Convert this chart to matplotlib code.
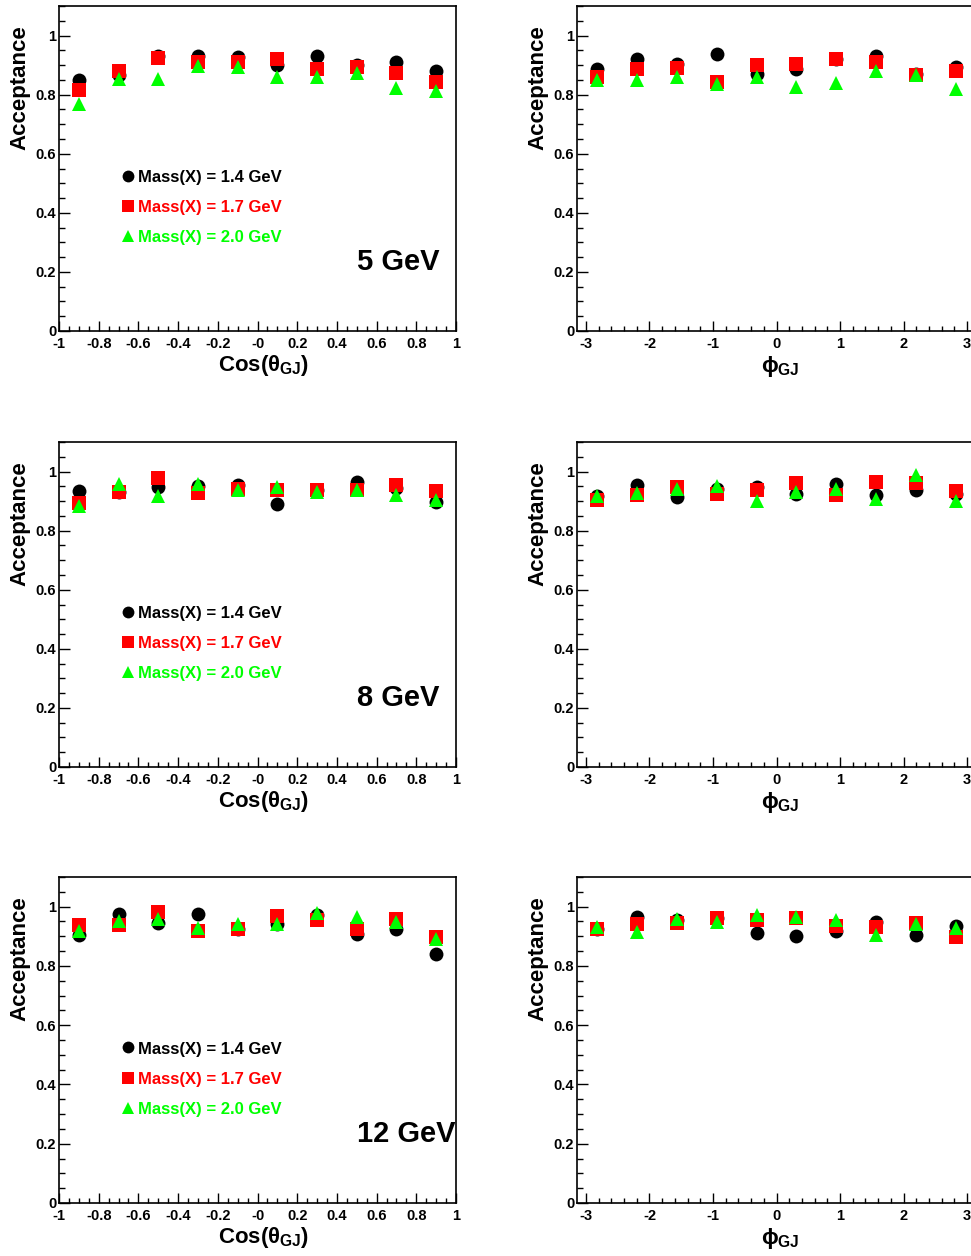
import numpy as np
import matplotlib
matplotlib.use("Agg")
import matplotlib.pyplot as plt
from matplotlib.ticker import MultipleLocator, FixedLocator

plt.rcParams['font.family'] = ['Liberation Sans', 'DejaVu Sans']
plt.rcParams['font.weight'] = 'bold'
plt.rcParams['mathtext.fontset'] = 'custom'
plt.rcParams['mathtext.rm'] = 'Liberation Sans:bold'
plt.rcParams['mathtext.it'] = 'Liberation Sans:bold'
plt.rcParams['mathtext.bf'] = 'Liberation Sans:bold'

# bin centres
cos_x = [-0.9, -0.7, -0.5, -0.3, -0.1, 0.1, 0.3, 0.5, 0.7, 0.9]
phi_x = [-2.83, -2.20, -1.57, -0.94, -0.31, 0.31, 0.94, 1.57, 2.20, 2.83]

masses = ["1.4", "1.7", "2.0"]
beams = ["5 GeV", "8 GeV", "12 GeV"]

# acceptance vs cos(theta_GJ): [beam][mass]
cos_5 = [
    [0.848, 0.865, 0.931, 0.932, 0.926, 0.901, 0.932, 0.900, 0.910, 0.879],
    [0.816, 0.879, 0.923, 0.912, 0.909, 0.920, 0.887, 0.893, 0.874, 0.843],
    [0.768, 0.852, 0.852, 0.896, 0.893, 0.860, 0.860, 0.874, 0.824, 0.813],
]
cos_8 = [
    [0.934, 0.930, 0.947, 0.950, 0.953, 0.889, 0.938, 0.964, 0.945, 0.897],
    [0.894, 0.931, 0.978, 0.927, 0.942, 0.936, 0.939, 0.936, 0.956, 0.934],
    [0.883, 0.959, 0.916, 0.959, 0.939, 0.947, 0.931, 0.939, 0.920, 0.905],
]
cos_12 = [
    [0.904, 0.975, 0.946, 0.974, 0.924, 0.942, 0.972, 0.908, 0.924, 0.840],
    [0.938, 0.938, 0.983, 0.919, 0.924, 0.969, 0.955, 0.924, 0.957, 0.896],
    [0.919, 0.953, 0.957, 0.927, 0.942, 0.942, 0.978, 0.964, 0.949, 0.890],
]
# acceptance vs phi_GJ
phi_5 = [
    [0.887, 0.921, 0.903, 0.937, 0.871, 0.887, 0.920, 0.931, 0.871, 0.893],
    [0.860, 0.888, 0.890, 0.844, 0.900, 0.904, 0.920, 0.912, 0.865, 0.881],
    [0.849, 0.848, 0.859, 0.837, 0.860, 0.827, 0.840, 0.879, 0.865, 0.819],
]
phi_8 = [
    [0.916, 0.955, 0.914, 0.942, 0.947, 0.923, 0.959, 0.922, 0.939, 0.925],
    [0.903, 0.920, 0.947, 0.923, 0.939, 0.961, 0.920, 0.964, 0.961, 0.933],
    [0.916, 0.927, 0.942, 0.950, 0.900, 0.931, 0.942, 0.908, 0.987, 0.900],
]
phi_12 = [
    [0.924, 0.964, 0.955, 0.961, 0.912, 0.901, 0.919, 0.949, 0.904, 0.933],
    [0.924, 0.942, 0.944, 0.961, 0.955, 0.961, 0.935, 0.930, 0.944, 0.899],
    [0.930, 0.916, 0.957, 0.949, 0.972, 0.964, 0.955, 0.904, 0.942, 0.927],
]

cos_data = [cos_5, cos_8, cos_12]
phi_data = [phi_5, phi_8, phi_12]

colors = ["black", "#ff0000", "#00ff00"]
markers = ["o", "s", "^"]

W, H = 971, 1256
fig = plt.figure(figsize=(W / 100, H / 100), dpi=100)

row_px = [(6, 331), (442, 767), (877, 1203)]
left_px = (59, 456)
right_px = (577, 976)


def make_ax(xpx, ypx):
    return fig.add_axes([xpx[0] / W, 1 - ypx[1] / H,
                         (xpx[1] - xpx[0]) / W, (ypx[1] - ypx[0]) / H])


def style(ax):
    for s in ax.spines.values():
        s.set_linewidth(1.2)
    ax.set_ylim(0, 1.1)
    ax.yaxis.set_major_locator(FixedLocator([0, 0.2, 0.4, 0.6, 0.8, 1.0]))
    ax.set_yticklabels(["0", "0.2", "0.4", "0.6", "0.8", "1"])
    ax.yaxis.set_minor_locator(MultipleLocator(0.05))
    ax.tick_params(axis="both", which="both", direction="in", top=False, right=False,
                   labelsize=10.5, width=1)
    ax.tick_params(axis="y", which="major", length=8, pad=2)
    ax.tick_params(axis="y", which="minor", length=4)
    ax.tick_params(axis="x", which="major", length=7, pad=4)
    ax.tick_params(axis="x", which="minor", length=3.5)
    ax.text(-0.098, 0.94, "Acceptance", rotation=90, ha="center", va="top",
            fontsize=16, fontweight="bold", transform=ax.transAxes)


for r in range(3):
    # cos(theta) panel
    ax = make_ax(left_px, row_px[r])
    for m in range(3):
        ax.plot(cos_x, cos_data[r][m], linestyle="none", marker=markers[m],
                color=colors[m], markersize=10, markeredgewidth=0, clip_on=False)
    ax.set_xlim(-1, 1)
    ax.xaxis.set_major_locator(FixedLocator(np.arange(-1, 1.01, 0.2)))
    ax.set_xticklabels(["-1", "-0.8", "-0.6", "-0.4", "-0.2", "-0", "0.2", "0.4",
                        "0.6", "0.8", "1"])
    ax.xaxis.set_minor_locator(MultipleLocator(0.05))
    style(ax)
    ax.text(0.514, -0.105, r"Cos($\theta_{GJ}$)", ha="center", va="center",
            fontsize=16, fontweight="bold", transform=ax.transAxes)
    # legend
    for m in range(3):
        ly = 0.519 - 0.102 * m
        ax.plot([-0.652], [ly + 0.006], linestyle="none", marker=markers[m],
                color=colors[m], markersize=8.5, markeredgewidth=0)
        ax.text(-0.602, ly, "Mass(X) = %s GeV" % masses[m], color=colors[m],
                fontsize=12, fontweight="bold", ha="left", va="center")
    ax.text(0.5, 0.234, beams[r], fontsize=21, fontweight="bold", ha="left",
            va="center")

    # phi panel
    ax = make_ax(right_px, row_px[r])
    for m in range(3):
        ax.plot(phi_x, phi_data[r][m], linestyle="none", marker=markers[m],
                color=colors[m], markersize=10, markeredgewidth=0, clip_on=False)
    ax.set_xlim(-np.pi, np.pi)
    ax.xaxis.set_major_locator(FixedLocator([-3, -2, -1, 0, 1, 2, 3]))
    ax.set_xticklabels(["-3", "-2", "-1", "0", "1", "2", "3"])
    ax.xaxis.set_minor_locator(MultipleLocator(0.2))
    style(ax)
    ax.text(0.509, -0.11, r"$\phi_{GJ}$", ha="center", va="center",
            fontsize=16, fontweight="bold", transform=ax.transAxes)

fig.savefig("out.png", dpi=100)
